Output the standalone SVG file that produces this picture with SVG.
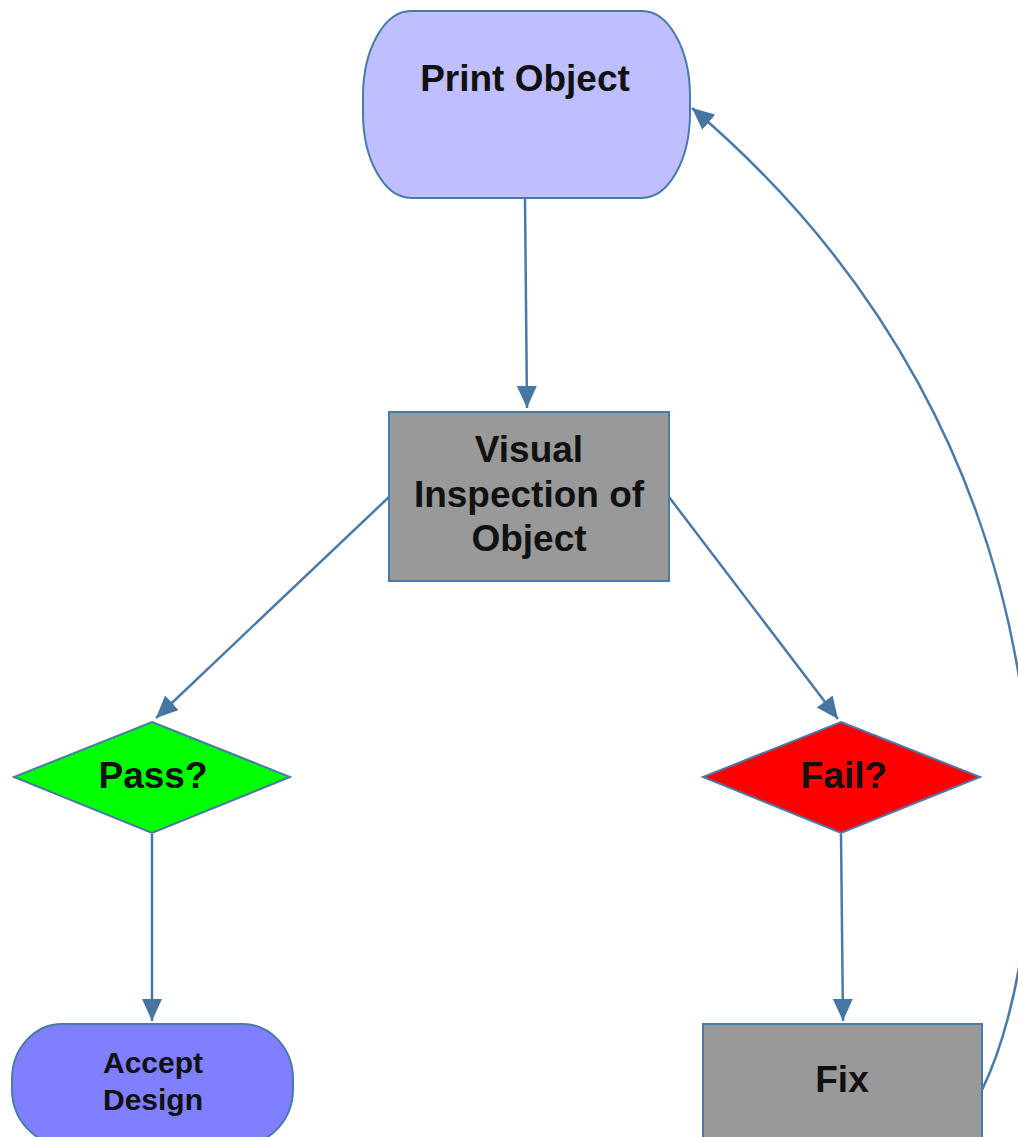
<svg xmlns="http://www.w3.org/2000/svg" width="1018" height="1137" viewBox="0 0 1018 1137">
<defs>
<marker id="arr" markerUnits="userSpaceOnUse" markerWidth="24" markerHeight="22" refX="22" refY="11" orient="auto">
<path d="M0,1 L22,11 L0,21 Z" fill="#4776a3"/>
</marker>
<style>
.n{stroke:#4a7aa8;stroke-width:2}
.t{font-family:"Liberation Sans",Arial,sans-serif;font-weight:bold;fill:#111;text-anchor:middle}
.c{fill:none;stroke:#4a7aa8;stroke-width:2.5;marker-end:url(#arr)}
</style>
</defs>
<rect width="1018" height="1137" fill="#fff"/>
<g id="connectors">
<path class="c" d="M525,199 L527,408"/>
<path class="c" d="M389,497 L156,718"/>
<path class="c" d="M669,497 L838,719"/>
<path class="c" d="M152,834 L152,1021"/>
<path class="c" d="M841,834 L843,1021"/>
<path class="c" d="M982,1090 C1060,930 1095,450 692,108"/>
</g>
<g id="print-object">
<rect class="n" x="363" y="11" width="327" height="187" rx="48" ry="85" fill="#bfbfff"/>
<text class="t" x="525" y="91" font-size="37">Print Object</text>
</g>
<g id="visual-inspection">
<rect class="n" x="389" y="412" width="280" height="169" fill="#999999"/>
<text class="t" x="529" y="462" font-size="37">Visual</text>
<text class="t" x="529" y="507" font-size="37">Inspection of</text>
<text class="t" x="529" y="551" font-size="37">Object</text>
</g>
<g id="pass">
<polygon class="n" points="152,722 290,777 152,833 14,777" fill="#00ff00"/>
<text class="t" x="153" y="788" font-size="37">Pass?</text>
</g>
<g id="fail">
<polygon class="n" points="841,722 980,777 841,833 703,777" fill="#ff0000"/>
<text class="t" x="844" y="788" font-size="37">Fail?</text>
</g>
<g id="accept-design">
<rect class="n" x="12" y="1024" width="281" height="120" rx="50" ry="55" fill="#7f7fff"/>
<text class="t" x="153" y="1073" font-size="30">Accept</text>
<text class="t" x="153" y="1110" font-size="30">Design</text>
</g>
<g id="fix">
<rect class="n" x="703" y="1024" width="279" height="120" fill="#999999"/>
<text class="t" x="842" y="1092" font-size="37">Fix</text>
</g>
</svg>
